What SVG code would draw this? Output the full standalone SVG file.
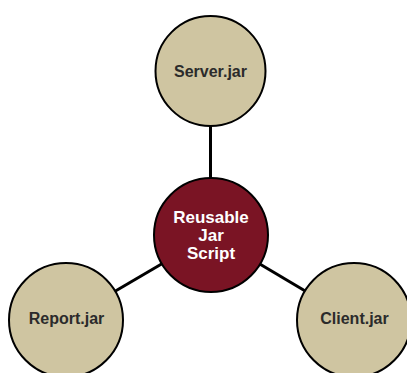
<svg xmlns="http://www.w3.org/2000/svg" width="407" height="373" viewBox="0 0 407 373">
  <style>
    .conn { stroke: #000; stroke-width: 3; fill: none; }
    .jar circle { fill: #CFC5A1; stroke: #000; stroke-width: 2; }
    .jar text { font-family: "Liberation Sans", Arial, sans-serif; font-weight: bold; font-size: 16px; fill: #2b2b2b; text-anchor: middle; }
    .hub circle { fill: #7A1424; stroke: #000; stroke-width: 2; }
    .hub text { font-family: "Liberation Sans", Arial, sans-serif; font-weight: bold; font-size: 17px; fill: #fff; text-anchor: middle; }
  </style>
  <rect width="407" height="373" fill="#fff"/>
  <g id="connectors">
    <line class="conn" x1="210.5" y1="126" x2="210.5" y2="180"/>
    <line class="conn" x1="211" y1="235" x2="66" y2="320"/>
    <line class="conn" x1="211" y1="235" x2="354" y2="320"/>
  </g>
  <g id="server" class="jar">
    <circle cx="210.5" cy="71" r="55"/>
    <text x="210.5" y="76.5">Server.jar</text>
  </g>
  <g id="report" class="jar">
    <circle cx="66" cy="320" r="57"/>
    <text x="66.5" y="323.5">Report.jar</text>
  </g>
  <g id="client" class="jar">
    <circle cx="354" cy="320" r="57"/>
    <text x="354.5" y="323.5">Client.jar</text>
  </g>
  <g id="hub" class="hub">
    <circle cx="211" cy="235" r="57"/>
    <text x="211" y="223">Reusable</text>
    <text x="211" y="241">Jar</text>
    <text x="211" y="259">Script</text>
  </g>
</svg>
